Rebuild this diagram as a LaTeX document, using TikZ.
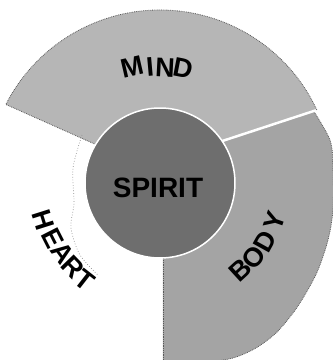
\documentclass[tikz,border=0pt]{standalone}
\usepackage{fontspec}
\setmainfont{Liberation Sans}
\definecolor{mindgray}{HTML}{B6B6B6}
\definecolor{bodygray}{HTML}{A4A4A4}
\definecolor{spiritgray}{HTML}{6E6E6E}
\begin{document}
\begin{tikzpicture}[x=1pt,y=1pt,
  lbl/.style={inner sep=0pt, font=\fontsize{27}{27}\selectfont\bfseries},
  biglbl/.style={inner sep=0pt, font=\fontsize{28}{28}\selectfont\bfseries},
  rim/.style={black!65, line width=0.8pt, densely dotted},
  sep/.style={white, line width=2.5pt}]
\useasboundingbox (-160,-177) rectangle (173,183);
\begin{scope}
\clip (-160,-177) rectangle (173,183);
% BODY region
\fill[bodygray] (62,42) -- plot[smooth] coordinates {(153,73) (170,43) (173,16) (173,-27) (168,-57) (158,-87) (146,-110) (133,-130) (116,-150) (96,-165) (73,-175) (43,-180) (3,-184)} -- (3,-50) -- cycle;
\draw[rim] plot[smooth] coordinates {(153,73) (170,43) (173,16) (173,-27) (168,-57) (158,-87) (146,-110) (133,-130) (116,-150) (96,-165) (73,-175) (43,-180) (3,-184)};
\draw[rim] (3,-184) -- (3,-74);
% MIND region
\fill[mindgray] (25:173) arc[start angle=25, end angle=153, radius=173] -- (149:74) -- (34:75) -- cycle;
\draw[rim] (25:173) arc[start angle=25, end angle=153, radius=173] -- (149:74);
\end{scope}
% separator between MIND and BODY
\draw[sep] (34:75) -- (25:172);
% faint dotted outline of HEART
\draw[black!45, dotted, line width=0.7pt] plot[smooth] coordinates {(-78,48) (-87,15) (-86,-20) (-89,-45) (-80,-72) (-62,-92)};
% SPIRIT
\node[circle, minimum size=150pt, inner sep=0pt, fill=spiritgray, draw=white, line width=1.5pt] (spirit) at (0,0) {};
\node[biglbl] (spiritlbl) at (-2,-5) {SPIRIT};
% MIND
\node[lbl, rotate=13] (m1) at (-28,116) {M};
\node[lbl, rotate=5] (m2) at (-10,116) {I};
\node[lbl, rotate=-3] (m3) at (5,115) {N};
\node[lbl, rotate=-11] (m4) at (23,115) {D};
% HEART
\node[lbl, rotate=-72.5] (h1) at (-117,-37) {H};
\node[lbl, rotate=-63] (h2) at (-107,-55) {E};
\node[lbl, rotate=-54] (h3) at (-97,-70) {A};
\node[lbl, rotate=-46] (h4) at (-87,-84) {R};
\node[lbl, rotate=-38] (h5) at (-75,-97) {T};
% BODY
\node[lbl, rotate=42.5] (b1) at (80,-87) {B};
\node[lbl, rotate=51.5] (b2) at (93.5,-74.5) {O};
\node[lbl, rotate=61] (b3) at (105,-58) {D};
\node[lbl, rotate=71] (b4) at (115,-38) {Y};
\end{tikzpicture}
\end{document}
